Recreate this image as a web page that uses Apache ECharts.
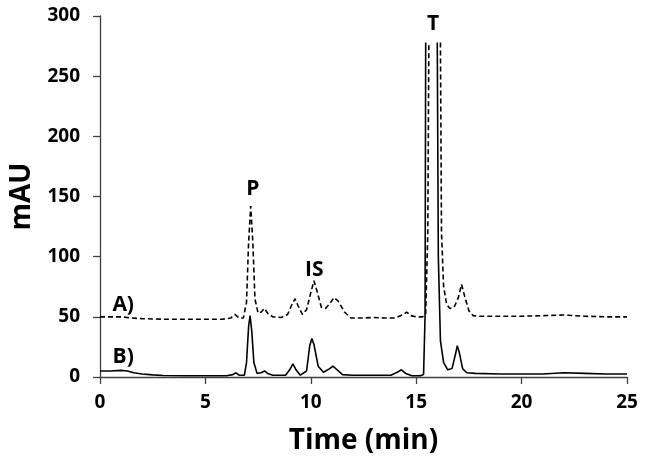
<!DOCTYPE html>
<html>
<head>
<meta charset="utf-8">
<script src="https://cdn.jsdelivr.net/npm/echarts@6/dist/echarts.min.js"></script>
<style>
  html, body { margin: 0; padding: 0; background: #fff; }
  #chart { width: 645px; height: 470px; }
</style>
</head>
<body>
<div id="chart"></div>
<script>
// trace A) (dashed, offset to ~50 mAU), time in min
var timeA = [0, 0.5, 1.0, 1.5, 2, 3, 4, 5, 5.8, 6.2, 6.4, 6.6, 6.8, 6.95, 7.05, 7.15, 7.25, 7.35, 7.5, 7.65, 7.8, 7.95,
  8.2, 8.6, 8.9, 9.1, 9.25, 9.4, 9.6, 9.8, 10.0, 10.15, 10.3, 10.5, 10.7, 10.9, 11.1, 11.3, 11.6, 11.9,
  12.5, 13, 13.5, 14, 14.4, 14.55, 14.75, 15.0, 15.3, 15.45, 15.55, 15.6, 15.9, 16.15, 16.2, 16.3, 16.45,
  16.6, 16.8, 17.0, 17.15, 17.3, 17.5, 17.7, 18, 19, 20, 21, 22, 23, 24, 25];
var valueA = [50, 50, 50, 49, 48.5, 48, 48, 48, 48, 49, 52, 49, 49, 62, 112, 142, 112, 65, 53, 54, 57, 53,
  50, 49.5, 52, 60, 65, 59, 52, 56, 70, 80, 71, 58, 57, 61, 66, 63, 54, 49,
  49, 49.5, 49, 49, 52, 54, 51, 50, 50, 52, 120, 278, null, 278, 120, 75, 60,
  57, 58, 66, 77, 67, 55, 51, 50.5, 50.5, 50.5, 51, 51.5, 50.5, 50, 50];

// trace B) (solid)
var timeB = [0, 0.5, 1.0, 1.3, 1.6, 2, 2.5, 3, 4, 5, 6, 6.3, 6.45, 6.6, 6.85, 6.95, 7.05, 7.12, 7.2, 7.3, 7.45,
  7.65, 7.8, 7.95, 8.2, 8.8, 9.0, 9.15, 9.3, 9.5, 9.8, 9.95, 10.05, 10.15, 10.35, 10.6, 10.9, 11.05, 11.25,
  11.5, 12, 13, 13.8, 14.1, 14.3, 14.5, 14.8, 15.2, 15.35, 15.42, 15.45, 15.7, 16.0, 16.05, 16.15, 16.3,
  16.5, 16.7, 16.85, 16.95, 17.05, 17.2, 17.4, 17.8, 19, 20, 21, 22, 23, 24, 25];
var valueB = [5, 5, 5.5, 5, 3.5, 2.5, 1.8, 1.3, 1, 1, 1, 2, 3.5, 1.5, 1.5, 12, 42, 51, 38, 12, 3,
  3.5, 5, 3, 1.5, 1.5, 6, 11, 6, 1.5, 5, 26, 32, 27, 9, 4, 7, 9, 6,
  2, 1.5, 1.5, 1.5, 4, 6, 3, 1, 1, 2, 50, 278, null, 278, 100, 30, 12,
  6, 7, 18, 26, 20, 7, 3.5, 3, 2.5, 2.5, 2.5, 3.5, 3, 2.5, 2.5];

// text labels: [text, time, mAU]
var peakLabels = [['P', 7.25, 156], ['IS', 10.17, 89], ['T', 15.8, 293]];
var traceLabels = [['A)', 1.1, 60], ['B)', 1.1, 17]];

var xTicks = [0, 25, 5];
var yTicks = [0, 300, 50];

function pairs(t, v) {
  var out = [];
  for (var i = 0; i < t.length; i++) out.push([t[i], v[i]]);
  return out;
}

var FONT = 'Open Sans';
var labelStyle = { show: true, position: 'inside', color: '#000', fontFamily: FONT, fontWeight: 'bold', fontSize: 21 };

function marks(list) {
  return list.map(function (l) {
    return { coord: [l[1], l[2]], value: l[0], label: { formatter: l[0] } };
  });
}

var myChart = echarts.init(document.getElementById('chart'));

var chartOption = {
  animation: false,
  backgroundColor: '#fff',
  grid: { left: 97, right: 18, top: 16, bottom: 93 },
  xAxis: {
    type: 'value', min: xTicks[0], max: xTicks[1], interval: xTicks[2],
    name: 'Time (min)', nameLocation: 'middle', nameGap: 50,
    nameTextStyle: { fontFamily: FONT, fontWeight: 'bold', fontSize: 28, color: '#000' },
    axisLine: { lineStyle: { color: '#404040', width: 1.3 } },
    axisTick: { length: 7, lineStyle: { color: '#404040', width: 1.3 } },
    axisLabel: { fontFamily: FONT, fontWeight: 'bold', fontSize: 19, color: '#000', margin: 16 },
    splitLine: { show: false }
  },
  yAxis: {
    type: 'value', min: yTicks[0], max: yTicks[1], interval: yTicks[2],
    name: 'mAU', nameLocation: 'middle', nameGap: 64, nameRotate: 90,
    nameTextStyle: { fontFamily: FONT, fontWeight: 'bold', fontSize: 28, color: '#000' },
    axisLine: { show: true, lineStyle: { color: '#404040', width: 1.3 } },
    axisTick: { show: true, length: 7, lineStyle: { color: '#404040', width: 1.3 } },
    axisLabel: { fontFamily: FONT, fontWeight: 'bold', fontSize: 19, color: '#000', margin: 20 },
    splitLine: { show: false }
  },
  series: [
    {
      name: 'A', type: 'line', data: pairs(timeA, valueA), showSymbol: false, connectNulls: false,
      lineStyle: { color: '#000', width: 1.6, type: [5, 3] }, clip: true,
      markPoint: { symbol: 'circle', symbolSize: 0, label: labelStyle, data: marks(peakLabels.concat([traceLabels[0]])) }
    },
    {
      name: 'B', type: 'line', data: pairs(timeB, valueB), showSymbol: false, connectNulls: false,
      lineStyle: { color: '#000', width: 1.6 }, clip: true,
      markPoint: { symbol: 'circle', symbolSize: 0, label: labelStyle, data: marks([traceLabels[1]]) }
    }
  ]
};

myChart.setOption(chartOption);
</script>
</body>
</html>
